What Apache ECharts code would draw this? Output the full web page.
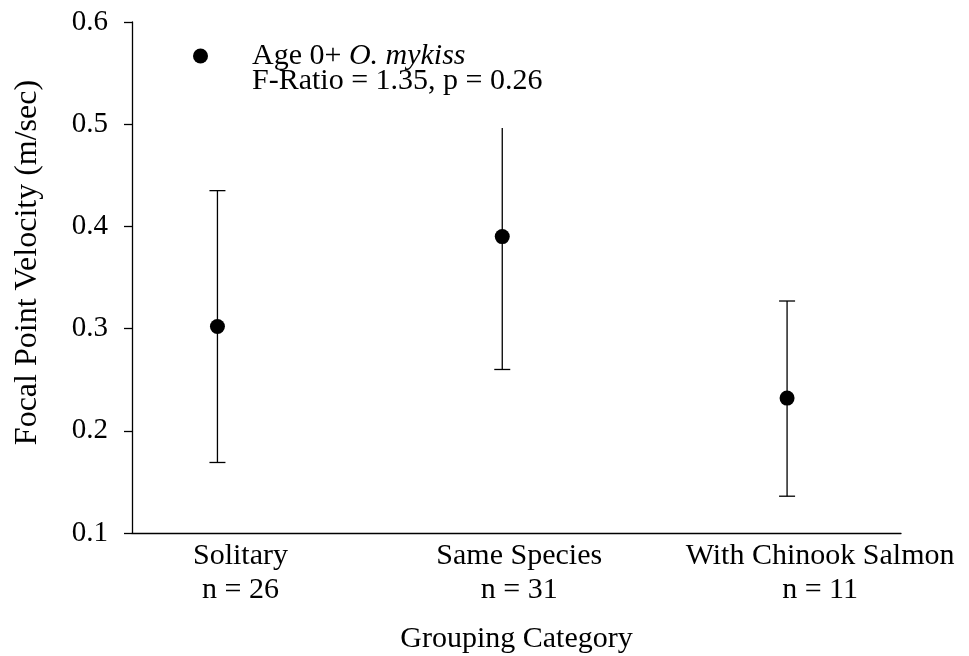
<!DOCTYPE html>
<html>
<head>
<meta charset="utf-8">
<script src="https://cdn.jsdelivr.net/npm/echarts@6/dist/echarts.min.js"></script>
<style>
  html, body { margin: 0; padding: 0; background: #fff; }
  #chart { width: 969px; height: 656px; }
</style>
</head>
<body>
<div id="chart"></div>
<script>
// Focal point velocity of age 0+ O. mykiss by grouping category
const categories = ['Solitary', 'Same Species', 'With Chinook Salmon'];
const sampleSizes = [26, 31, 11];
const xPositions = [1, 2, 3];
const meanVelocity = [0.302, 0.390, 0.232];
const upperBound = [0.435, 0.497, 0.327];
const lowerBound = [0.169, 0.260, 0.136];
const yTicks = [0.1, 0.2, 0.3, 0.4, 0.5, 0.6];
const seriesName = 'Age 0+ O. mykiss';
const statsText = 'F-Ratio = 1.35, p = 0.26';

const FONT = '"Liberation Serif", "Times New Roman", serif';
const INK = '#000';

// horizontal nudge of each category label (px) relative to its point
const labelShift = [23, 17, 33];

const richStyles = {};
categories.forEach((c, i) => {
  richStyles['c' + i] = {
    fontFamily: FONT, fontSize: 30, color: INK, lineHeight: 34,
    padding: [0, 0, 0, labelShift[i] * 2]
  };
});

const pointData = xPositions.map((x, i) => [x, meanVelocity[i]]);
const barData = xPositions.map((x, i) => [x, lowerBound[i], upperBound[i]]);

const chart = echarts.init(document.getElementById('chart'), null, { renderer: 'canvas' });

chart.setOption({
  backgroundColor: '#fff',
  animation: false,
  grid: { left: 132, right: 68, top: 22, bottom: 123, containLabel: false, outerBoundsMode: 'none' },
  title: {
    text: statsText,
    left: 252,
    top: 64,
    z: 3,
    padding: [0, 6, 30, 0],
    backgroundColor: '#fff',
    textStyle: { fontFamily: FONT, fontSize: 30, fontWeight: 'normal', color: INK, lineHeight: 34 }
  },
  legend: {
    data: [seriesName],
    left: 188,
    top: 36,
    z: 4,
    itemWidth: 15,
    itemHeight: 15,
    icon: 'circle',
    formatter: () => '{n|Age 0+ }{i|O. mykiss}',
    textStyle: {
      padding: [0, 0, 0, 39],
      rich: {
        n: { fontFamily: FONT, fontSize: 30, color: INK },
        i: { fontFamily: FONT, fontSize: 30, color: INK, fontStyle: 'italic' }
      }
    }
  },
  xAxis: {
    type: 'value',
    min: 0.7,
    max: 3.4,
    name: 'Grouping Category',
    nameLocation: 'middle',
    nameGap: 91,
    nameTextStyle: { fontFamily: FONT, fontSize: 30, color: INK },
    axisLine: { show: true, onZero: false, lineStyle: { color: INK, width: 1.3 } },
    axisTick: { show: false },
    splitLine: { show: false },
    axisLabel: {
      customValues: xPositions,
      margin: 6,
      formatter: (v) => {
        const i = xPositions.indexOf(Math.round(v));
        if (i < 0) return '';
        return '{c' + i + '|' + categories[i] + '}\n{c' + i + '|n = ' + sampleSizes[i] + '}';
      },
      rich: richStyles
    }
  },
  yAxis: {
    type: 'value',
    min: 0.1,
    max: 0.6,
    interval: 0.1,
    name: 'Focal Point Velocity (m/sec)',
    nameLocation: 'middle',
    nameGap: 88,
    nameTextStyle: { fontFamily: FONT, fontSize: 32, color: INK, padding: [0, 0, 0, 30] },
    axisLine: { show: true, lineStyle: { color: INK, width: 1.3 } },
    axisTick: { show: true, inside: false, length: 8, lineStyle: { color: INK, width: 1.3 } },
    splitLine: { show: false },
    axisLabel: {
      margin: 24,
      fontFamily: FONT,
      fontSize: 29,
      color: INK,
      formatter: (v) => {
        const t = yTicks.find(y => Math.abs(y - v) < 1e-6);
        return t === undefined ? '' : t.toFixed(1);
      }
    }
  },
  series: [
    {
      name: 'range',
      type: 'custom',
      data: barData,
      z: 2,
      renderItem: (params, api) => {
        const x = api.value(0);
        const lo = api.coord([x, api.value(1)]);
        const hi = api.coord([x, api.value(2)]);
        const half = 8;
        const style = { stroke: INK, lineWidth: 1.3 };
        return {
          type: 'group',
          children: [
            { type: 'line', shape: { x1: lo[0], y1: lo[1], x2: hi[0], y2: hi[1] }, style },
            { type: 'line', shape: { x1: hi[0] - half, y1: hi[1], x2: hi[0] + half, y2: hi[1] }, style },
            { type: 'line', shape: { x1: lo[0] - half, y1: lo[1], x2: lo[0] + half, y2: lo[1] }, style }
          ]
        };
      }
    },
    {
      name: seriesName,
      type: 'scatter',
      data: pointData,
      symbol: 'circle',
      symbolSize: 15,
      z: 3,
      itemStyle: { color: INK, opacity: 1 }
    }
  ]
});
</script>
</body>
</html>
